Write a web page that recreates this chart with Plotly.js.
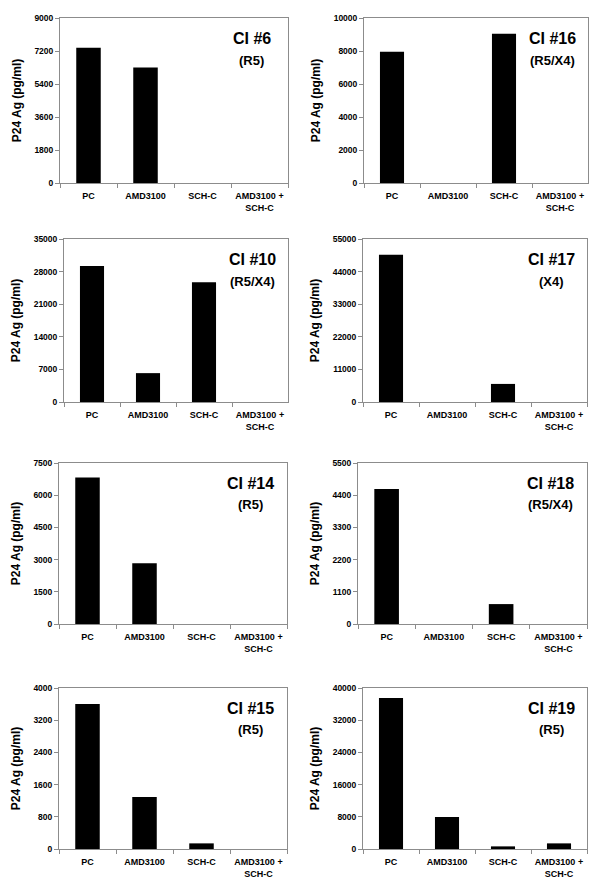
<!DOCTYPE html>
<html>
<head>
<meta charset="utf-8">
<script src="https://cdn.plot.ly/plotly-3.0.1.min.js"></script>
<style>
  html, body { margin: 0; padding: 0; background: #fff; }
  #plot { width: 600px; height: 896px; }
</style>
</head>
<body>
<div id="plot"></div>
<script>
  const categories = ['PC', 'AMD3100', 'SCH-C', 'AMD3100 +<br>SCH-C'];

  const isolates = ['CI #6', 'CI #16', 'CI #10', 'CI #17', 'CI #14', 'CI #18', 'CI #15', 'CI #19'];
  const tropism = ['(R5)', '(R5/X4)', '(R5/X4)', '(X4)', '(R5)', '(R5/X4)', '(R5)', '(R5)'];

  // p24 antigen, pg/ml
  const ci6 = [7380, 6300, 0, 0];
  const ci16 = [7950, 0, 9050, 0];
  const ci10 = [29200, 6200, 25700, 0];
  const ci17 = [49700, 0, 6100, 0];
  const ci14 = [6820, 2830, 0, 0];
  const ci18 = [4610, 0, 680, 0];
  const ci15 = [3600, 1290, 140, 0];
  const ci19 = [37500, 7950, 650, 1400];

  const yMax = [9000, 10000, 35000, 55000, 7500, 5500, 4000, 40000];

  const values = [ci6, ci16, ci10, ci17, ci14, ci18, ci15, ci19];

  // panel boxes in px: left, right, top, bottom
  const W = 600, H = 896;
  const boxes = [
    [60, 288, 18, 183], [364, 588, 18, 183],
    [64, 288, 239, 402], [363, 587, 239, 402],
    [59, 287, 463, 624], [358, 587, 463, 624],
    [59, 287, 688, 849], [363, 587, 688, 849]
  ];

  const font = 'Liberation Sans, Arial, sans-serif';
  const data = [];
  const layout = {
    width: W,
    height: H,
    margin: {l: 0, r: 0, t: 0, b: 0},
    paper_bgcolor: '#fff',
    plot_bgcolor: '#fff',
    showlegend: false,
    font: {family: font, color: '#000'},
    annotations: []
  };

  values.forEach(function(vals, i) {
    const n = i === 0 ? '' : String(i + 1);
    const b = boxes[i];
    data.push({
      type: 'bar',
      x: categories,
      y: vals,
      width: 0.43,
      xaxis: 'x' + n,
      yaxis: 'y' + n,
      marker: {color: '#000'},
      hoverinfo: 'x+y'
    });
    layout['xaxis' + n] = {
      domain: [b[0] / W, b[1] / W],
      anchor: 'y' + n,
      type: 'category',
      showline: true,
      linecolor: '#8c8c8c',
      linewidth: 1,
      mirror: true,
      ticks: 'outside',
      tickson: 'boundaries',
      ticklen: 4,
      tickcolor: '#8c8c8c',
      tickangle: 0,
      ticklabelstandoff: 4,
      showgrid: false,
      tickfont: {family: font, size: 9, color: '#000', weight: 'bold'}
    };
    layout['yaxis' + n] = {
      domain: [1 - b[3] / H, 1 - b[2] / H],
      anchor: 'x' + n,
      range: [0, yMax[i]],
      dtick: yMax[i] / 5,
      tickformat: 'd',
      showline: true,
      linecolor: '#8c8c8c',
      linewidth: 1,
      mirror: true,
      ticks: 'outside',
      ticklen: 4,
      tickcolor: '#8c8c8c',
      showgrid: false,
      zeroline: false,
      tickfont: {family: font, size: 8.5, color: '#000', weight: 'bold'},
      title: {
        text: 'P24 Ag (pg/ml)',
        font: {family: font, size: 12, color: '#000', weight: 'bold'},
        standoff: 10
      }
    };
    layout.annotations.push({
      xref: 'x' + n + ' domain', yref: 'y' + n + ' domain',
      x: 0.84, y: 0.875, xanchor: 'center', yanchor: 'middle', showarrow: false,
      text: '<b>' + isolates[i] + '</b>',
      font: {family: font, size: 16, color: '#000'}
    });
    layout.annotations.push({
      xref: 'x' + n + ' domain', yref: 'y' + n + ' domain',
      x: 0.84, y: 0.74, xanchor: 'center', yanchor: 'middle', showarrow: false,
      text: '<b>' + tropism[i] + '</b>',
      font: {family: font, size: 13, color: '#000'}
    });
  });

  Plotly.newPlot('plot', data, layout, {staticPlot: true});
</script>
</body>
</html>
